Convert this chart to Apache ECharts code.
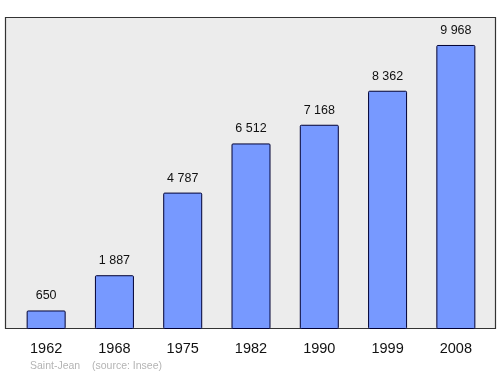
<!DOCTYPE html>
<html><head><meta charset="utf-8">
<script src="https://cdn.jsdelivr.net/npm/echarts@6/dist/echarts.min.js"></script>
<style>html,body{margin:0;padding:0;background:#fff}#c{width:500px;height:374px}</style>
</head><body><div id="c"></div>
<script>
var years = ['1962','1968','1975','1982','1990','1999','2008'];
var population = [650, 1887, 4787, 6512, 7168, 8362, 9968];
var footerPlace = 'Saint-Jean';
var footerSource = '(source: Insee)';

function fmt(v){return String(v).replace(/\B(?=(\d{3})+(?!\d))/g,' ');}

var chart = echarts.init(document.getElementById('c'), null, {renderer:'canvas'});
chart.setOption({
  animation:false,
  backgroundColor:'#ffffff',
  graphic:[
    {type:'rect', z:-10, shape:{x:5.5,y:17.5,width:490,height:311}, style:{fill:'#ececec', stroke:'#333333', lineWidth:1.2}},
    {type:'text', left:30, top:361, style:{text:footerPlace, fill:'#b4b4b4', font:'10.5px "Liberation Sans", Arial, sans-serif'}},
    {type:'text', left:92, top:361, style:{text:footerSource, fill:'#b4b4b4', font:'10.5px "Liberation Sans", Arial, sans-serif'}}
  ],
  grid:{left:12, right:10, top:17, bottom:45, containLabel:false},
  xAxis:{type:'category', data:years, boundaryGap:true,
    axisLine:{show:false}, axisTick:{show:false},
    axisLabel:{color:'#111', fontSize:14.5, fontFamily:'"Liberation Sans", Arial, sans-serif', margin:12}},
  yAxis:{type:'value', min:0, max:10950, show:false, splitLine:{show:false}},
  series:[{type:'bar', data:population, barWidth:39,
    itemStyle:{color:'#7799ff', borderColor:'#000033', borderWidth:1, borderRadius:1},
    label:{show:true, position:'top', distance:8, color:'#111', fontSize:12.5,
      fontFamily:'"Liberation Sans", Arial, sans-serif', formatter:function(p){return fmt(p.value);}}
  }]
});
</script></body></html>
